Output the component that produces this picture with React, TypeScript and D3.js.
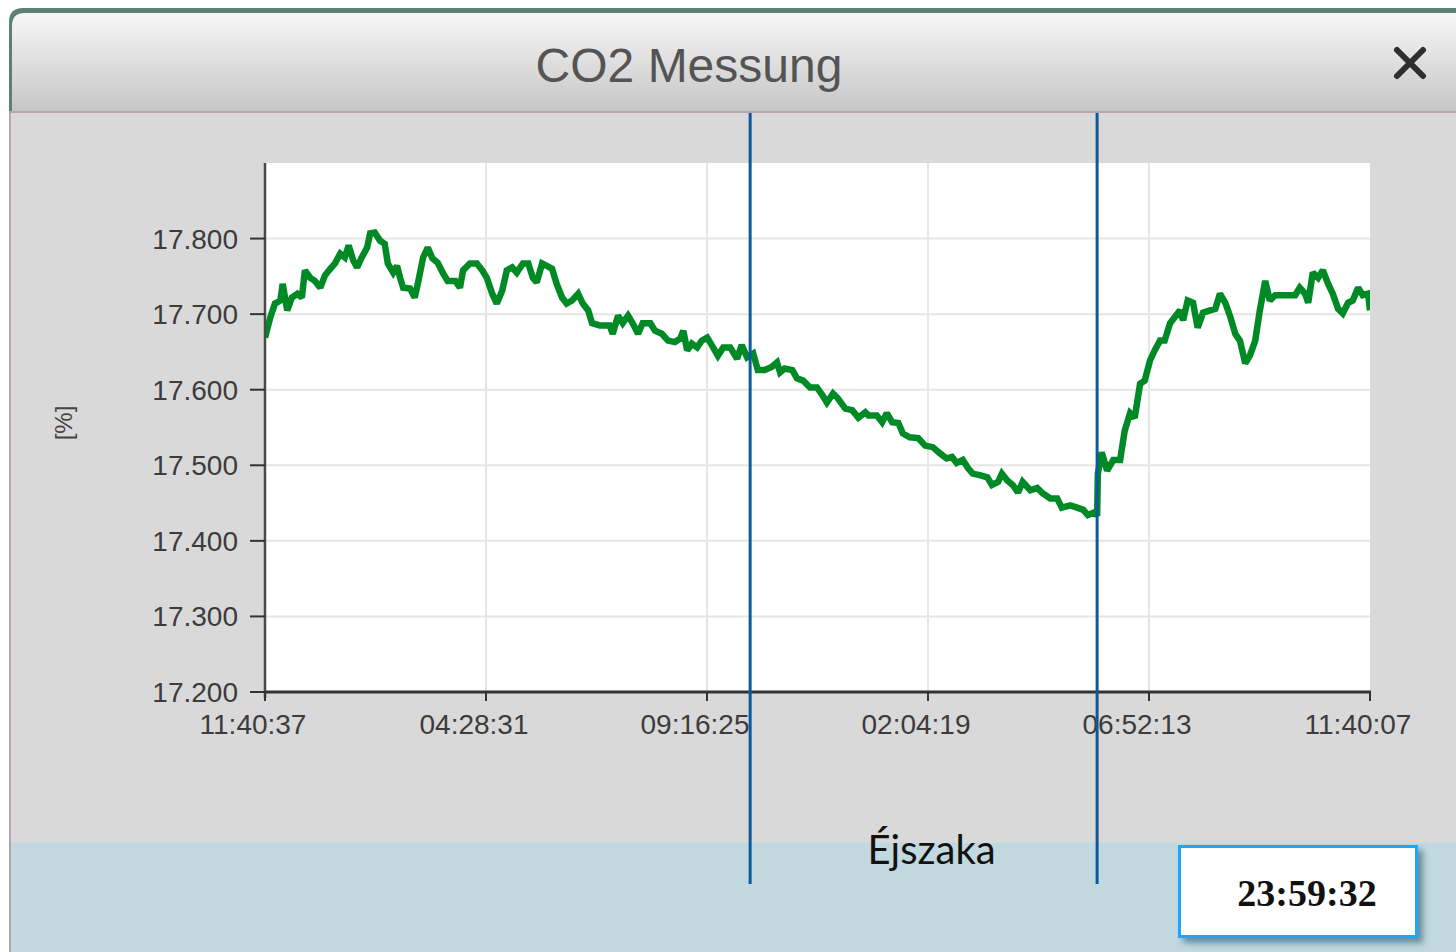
import React from "react";
import * as d3 from "d3";

// minutes since 11:40:37
const minutes = [0,7,13,20,23,29,35,42,48,52,59,65,72,78,85,91,98,104,109,115,120,126,133,137,143,150,156,160,167,172,176,180,189,195,199,206,212,218,225,232,238,248,254,258,267,276,283,289,296,302,309,315,322,328,336,343,349,354,361,367,374,380,387,393,400,408,414,421,426,436,449,453,460,466,473,479,486,492,502,508,517,525,534,541,545,550,556,563,569,576,582,590,597,606,615,621,628,636,642,651,660,667,671,677,687,693,701,710,719,726,732,740,746,756,765,773,782,786,797,804,810,817,825,831,840,851,860,870,879,888,895,901,909,916,922,931,941,947,955,960,967,974,981,987,997,1006,1013,1023,1032,1038,1049,1058,1066,1072,1081,1084,1085,1090,1097,1105,1114,1120,1127,1133,1140,1146,1153,1159,1166,1172,1179,1185,1192,1196,1202,1209,1215,1222,1231,1238,1244,1251,1257,1264,1270,1277,1283,1290,1296,1303,1309,1316,1325,1333,1342,1348,1355,1359,1365,1372,1378,1385,1391,1398,1404,1411,1417,1424,1430,1437,1439.5];
const co2 = [17.669,17.696,17.714,17.718,17.740,17.705,17.722,17.727,17.722,17.758,17.748,17.744,17.735,17.751,17.760,17.767,17.780,17.775,17.791,17.771,17.762,17.775,17.788,17.807,17.808,17.797,17.793,17.767,17.755,17.764,17.748,17.735,17.734,17.722,17.740,17.775,17.788,17.774,17.768,17.754,17.744,17.744,17.735,17.758,17.767,17.767,17.758,17.748,17.727,17.714,17.731,17.758,17.762,17.755,17.767,17.767,17.748,17.742,17.767,17.764,17.760,17.740,17.722,17.714,17.718,17.727,17.714,17.705,17.688,17.685,17.685,17.674,17.698,17.688,17.698,17.688,17.674,17.688,17.688,17.678,17.674,17.665,17.663,17.668,17.678,17.652,17.661,17.656,17.665,17.669,17.659,17.645,17.656,17.656,17.641,17.659,17.643,17.648,17.626,17.626,17.630,17.636,17.623,17.628,17.626,17.615,17.612,17.603,17.603,17.593,17.583,17.595,17.589,17.575,17.573,17.563,17.570,17.566,17.566,17.557,17.569,17.557,17.556,17.542,17.537,17.536,17.526,17.524,17.516,17.509,17.511,17.503,17.507,17.496,17.489,17.487,17.484,17.474,17.478,17.489,17.480,17.474,17.464,17.478,17.467,17.470,17.463,17.456,17.456,17.444,17.447,17.444,17.441,17.434,17.438,17.433,17.489,17.517,17.493,17.507,17.507,17.546,17.569,17.563,17.608,17.612,17.639,17.652,17.665,17.665,17.688,17.696,17.705,17.692,17.718,17.715,17.682,17.702,17.705,17.707,17.727,17.715,17.698,17.674,17.665,17.635,17.645,17.665,17.705,17.744,17.718,17.725,17.725,17.725,17.725,17.735,17.727,17.715,17.755,17.748,17.758,17.740,17.727,17.707,17.701,17.715,17.718,17.735,17.725,17.727,17.705];

const xTickMinutes = [0, 287.9, 575.8, 863.7, 1151.6, 1439.5];
const xTickLabels = ["11:40:37", "04:28:31", "09:16:25", "02:04:19", "06:52:13", "11:40:07"];
const yTicks = [17.2, 17.3, 17.4, 17.5, 17.6, 17.7, 17.8];
const nightMarks = [632, 1084];

const title = "CO2 Messung";
const unitLabel = "[%]";
const nightLabel = "Éjszaka";
const clockLabel = "23:59:32";

export default function App() {
  const W = 1456, H = 952;
  const left = 265, right = 1370, top = 163, bottom = 692;
  const x = d3.scaleLinear().domain([0, 1439.5]).range([left, right]);
  const y = d3.scaleLinear().domain([17.2, 17.9]).range([bottom, top]);
  const pts = minutes.map((m, i) => [m, co2[i]] as [number, number]);
  const line = d3.line<[number, number]>().x(d => x(d[0])).y(d => y(d[1]));
  const font = "'Liberation Sans', Arial, sans-serif";

  return (
    <svg width={W} height={H} style={{ position: "absolute", left: 0, top: 0, display: "block" }}>
      <defs>
        <linearGradient id="tb" x1="0" y1="0" x2="0" y2="1">
          <stop offset="0" stopColor="#f7f7f7" />
          <stop offset="1" stopColor="#c6c6c6" />
        </linearGradient>
        <filter id="sh" x="-10%" y="-10%" width="130%" height="140%">
          <feDropShadow dx="5" dy="5" stdDeviation="3" floodColor="#5a7f8e" floodOpacity="0.85" />
        </filter>
        <clipPath id="plotClip">
          <rect x={left} y={top - 10} width={right - left} height={bottom - top + 10} />
        </clipPath>
      </defs>
      <rect x={0} y={0} width={W} height={H} fill="#ffffff" />
      {/* window frame */}
      <path d={`M9,${H} L9,22 Q9,8 23,8 L${W},8 L${W},${H} Z`} fill="#5b8274" />
      <path d={`M12,112 L12,26 Q12,13 25,13 L${W},13 L${W},112 Z`} fill="url(#tb)" />
      <rect x={9} y={111} width={W - 9} height={2} fill="#b7a7ac" />
      <rect x={9} y={113} width={W - 9} height={H - 113} fill="#b9a6ad" />
      <rect x={11} y={113} width={W - 11} height={729} fill="#d9d9d9" />
      <rect x={11} y={842} width={W - 11} height={H - 842} fill="#c1d8de" />
      <rect x={11} y={842} width={W - 11} height={1} fill="#cbdde2" />

      {/* title */}
      <text x={689} y={82} textAnchor="middle" fontFamily={font} fontSize={48} fill="#545454">{title}</text>
      <g stroke="#2e2e2e" strokeWidth={6} strokeLinecap="round">
        <line x1={1397} y1={50} x2={1423} y2={76} />
        <line x1={1423} y1={50} x2={1397} y2={76} />
      </g>

      {/* plot area */}
      <rect x={left} y={top} width={right - left} height={bottom - top} fill="#ffffff" />
      {yTicks.slice(1).map(t => (
        <line key={"gy" + t} x1={left} x2={right} y1={y(t)} y2={y(t)} stroke="#e6e6e6" strokeWidth={2} />
      ))}
      {xTickMinutes.slice(1, 5).map(t => (
        <line key={"gx" + t} x1={x(t)} x2={x(t)} y1={top} y2={bottom} stroke="#e6e6e6" strokeWidth={2} />
      ))}

      <path d={line(pts) || ""} fill="none" stroke="#008a26" strokeWidth={6.5} strokeLinejoin="miter" strokeMiterlimit={2} clipPath="url(#plotClip)" />

      {/* axes */}
      <line x1={left} x2={left} y1={top} y2={bottom + 6} stroke="#4a4a4a" strokeWidth={2.5} />
      <line x1={left} x2={right + 1} y1={bottom} y2={bottom} stroke="#333" strokeWidth={3} />
      {yTicks.map(t => (
        <g key={"ty" + t}>
          <line x1={250} x2={left} y1={y(t)} y2={y(t)} stroke="#333" strokeWidth={2} />
          <text x={238} y={y(t) + 10} textAnchor="end" fontFamily={font} fontSize={28} fill="#3c3c3c">{t.toFixed(3)}</text>
        </g>
      ))}
      {xTickMinutes.map((t, i) => (
        <g key={"tx" + i}>
          <line x1={x(t)} x2={x(t)} y1={bottom} y2={bottom + 9} stroke="#333" strokeWidth={2} />
          <text x={x(t) - 12} y={734} textAnchor="middle" fontFamily={font} fontSize={28} fill="#3c3c3c">{xTickLabels[i]}</text>
        </g>
      ))}
      <text transform="translate(72,423) rotate(-90)" textAnchor="middle" fontFamily={font} fontSize={24} fill="#444">{unitLabel}</text>

      {/* night markers */}
      {nightMarks.map(m => (
        <line key={"n" + m} x1={x(m)} x2={x(m)} y1={113} y2={884} stroke="#0b5a9c" strokeWidth={3} />
      ))}
      <text x={(x(nightMarks[0]) + x(nightMarks[1])) / 2 + 8} y={864} textAnchor="middle" fontFamily="Lato, 'Noto Sans', sans-serif" fontSize={40} fill="#111">{nightLabel}</text>

      {/* clock box */}
      <rect x={1179.5} y={846.5} width={237} height={90} fill="#ffffff" stroke="#1aa6ff" strokeWidth={3} filter="url(#sh)" />
      <text x={1307} y={906} textAnchor="middle" fontFamily="'Liberation Serif', 'Times New Roman', serif" fontWeight="bold" fontSize={38} fill="#111">{clockLabel}</text>
    </svg>
  );
}
